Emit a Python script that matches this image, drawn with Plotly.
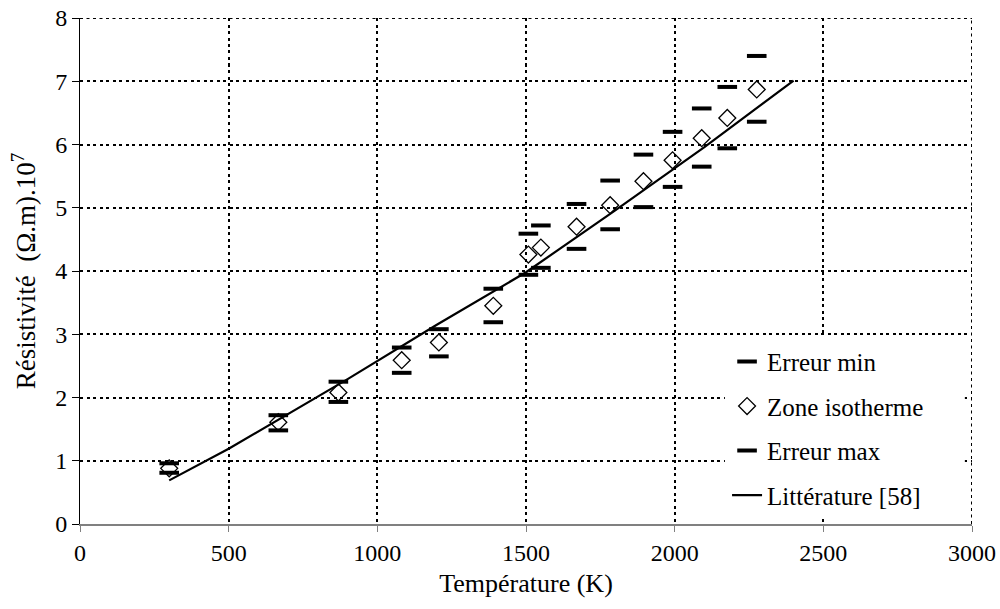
import plotly.graph_objects as go

# Data
temp = [300, 667, 869, 1082, 1207, 1390, 1508, 1550, 1670, 1783, 1895, 1993, 2091, 2177, 2276]
zone_isotherme = [0.88, 1.61, 2.08, 2.59, 2.87, 3.45, 4.26, 4.37, 4.70, 5.04, 5.42, 5.75, 6.10, 6.42, 6.87]
erreur_max = [0.96, 1.72, 2.25, 2.79, 3.08, 3.72, 4.59, 4.72, 5.06, 5.43, 5.84, 6.20, 6.57, 6.91, 7.40]
erreur_min = [0.81, 1.48, 1.93, 2.39, 2.65, 3.19, 3.94, 4.05, 4.35, 4.66, 5.01, 5.33, 5.65, 5.94, 6.36]

lit_temp = [300, 500, 900, 1200, 1500, 1800, 2100, 2400]
lit_res = [0.69, 1.19, 2.29, 3.15, 3.98, 4.96, 5.96, 7.01]

x_ticks = [0, 500, 1000, 1500, 2000, 2500, 3000]
y_ticks = [0, 1, 2, 3, 4, 5, 6, 7, 8]
X_MAX, Y_MAX = 3000, 8

FONT = "Times New Roman, Liberation Serif, serif"
FS = 24
DOT = "3px,3.5px"

fig = go.Figure()

fig.add_trace(go.Scatter(
    x=temp, y=erreur_min, mode="markers", name="Erreur min", legendgroup="a",
    marker=dict(symbol="line-ew", size=14, color="black", line=dict(color="black", width=4)),
))
fig.add_trace(go.Scatter(
    x=temp, y=zone_isotherme, mode="markers", name="Zone isotherme", legendgroup="b",
    marker=dict(symbol="diamond-open", size=13, color="black", line=dict(color="black", width=1.3)),
))
fig.add_trace(go.Scatter(
    x=temp, y=erreur_max, mode="markers", name="Erreur max", legendgroup="c",
    marker=dict(symbol="line-ew", size=14, color="black", line=dict(color="black", width=4)),
))
fig.add_trace(go.Scatter(
    x=lit_temp, y=lit_res, mode="lines", name="Littérature [58]", legendgroup="d",
    line=dict(color="black", width=2.2),
))

fig.update_layout(
    width=1000, height=609,
    margin=dict(l=80, r=28, t=18, b=85),
    paper_bgcolor="white", plot_bgcolor="white",
    font=dict(family=FONT, size=FS, color="black"),
    showlegend=True,
    legend=dict(
        x=0.7254, y=0.366, xanchor="left", yanchor="top",
        bgcolor="white", borderwidth=0,
        font=dict(family=FONT, size=25, color="black"),
        tracegroupgap=9, itemwidth=30,
    ),
    shapes=[
        dict(type="rect", xref="paper", yref="paper", x0=0.723, x1=0.992, y0=0.016, y1=0.372,
             fillcolor="white", line=dict(width=0), layer="above"),
        dict(type="line", xref="x", yref="y", x0=0, x1=X_MAX, y0=Y_MAX, y1=Y_MAX,
             line=dict(color="black", width=2, dash=DOT), layer="below"),
        dict(type="line", xref="x", yref="y", x0=X_MAX, x1=X_MAX, y0=0, y1=Y_MAX,
             line=dict(color="black", width=2, dash=DOT), layer="below"),
    ],
)

fig.update_xaxes(
    range=[0, X_MAX], tickvals=x_ticks, ticktext=[str(v) for v in x_ticks],
    showgrid=True, gridcolor="black", gridwidth=2, griddash=DOT,
    showline=True, linecolor="#808080", linewidth=2,
    ticks="outside", ticklen=6, tickcolor="#808080", tickwidth=1,
    zeroline=False, automargin=False,
    title=dict(text="Température (K)", font=dict(family=FONT, size=26), standoff=9),
    tickfont=dict(family=FONT, size=FS),
)
fig.update_yaxes(
    range=[0, Y_MAX], tickvals=y_ticks, ticktext=[str(v) for v in y_ticks],
    showgrid=True, gridcolor="black", gridwidth=2, griddash=DOT,
    showline=True, linecolor="black", linewidth=1,
    ticks="outside", ticklen=7, tickcolor="black", tickwidth=1,
    zeroline=False, automargin=False,
    title=dict(text="Résistivité\u00a0\u00a0(Ω.m).10<sup>7</sup>", font=dict(family=FONT, size=27), standoff=11),
    tickfont=dict(family=FONT, size=FS),
)

fig.write_html("out.html", config={"displayModeBar": False},
               post_script="document.body.style.margin='0';")
